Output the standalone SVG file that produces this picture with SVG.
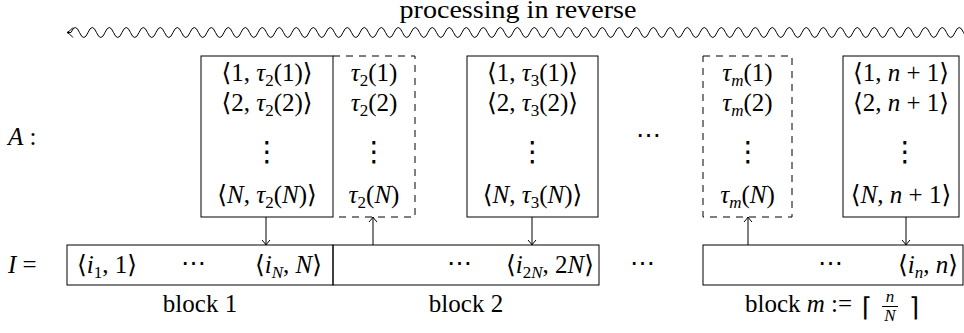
<svg xmlns="http://www.w3.org/2000/svg" width="964" height="333" viewBox="0 0 964 333">
<style>
.t{font-family:'Liberation Serif','Times New Roman','DejaVu Serif',serif;font-size:25px;fill:#000}
.c{text-anchor:middle}
.e{text-anchor:end}
.i{font-style:italic}
.s{font-size:17px}
.vd{font-family:'DejaVu Sans',sans-serif;font-size:28px;text-anchor:middle}
.cl{font-family:'DejaVu Sans',sans-serif;font-size:26px;fill:#000}
.box{fill:none;stroke:#000;stroke-width:1}
.dash{fill:none;stroke:#000;stroke-width:1;stroke-dasharray:7 6}
.ln{fill:none;stroke:#000;stroke-width:1}
</style>
<defs>
<marker id="ah" viewBox="-7 -5 8 10" refX="0" refY="0" markerWidth="8" markerHeight="10" markerUnits="userSpaceOnUse" orient="auto" overflow="visible">
<path d="M-5,-4 Q-1.5,-0.8 0,0 Q-1.5,0.8 -5,4" fill="none" stroke="#000" stroke-width="1"/>
</marker>
</defs>
<rect width="964" height="333" fill="#fff"/>

<g id="reverse-label">
<text x="518" y="18" class="t c" textLength="237" lengthAdjust="spacingAndGlyphs">processing in reverse</text>
<path class="ln" d="M67,32.5 H71 q4.25,-10 8.5,0 t8.5,0 8.5,0 8.5,0 8.5,0 8.5,0 8.5,0 8.5,0 8.5,0 8.5,0 8.5,0 8.5,0 8.5,0 8.5,0 8.5,0 8.5,0 8.5,0 8.5,0 8.5,0 8.5,0 8.5,0 8.5,0 8.5,0 8.5,0 8.5,0 8.5,0 8.5,0 8.5,0 8.5,0 8.5,0 8.5,0 8.5,0 8.5,0 8.5,0 8.5,0 8.5,0 8.5,0 8.5,0 8.5,0 8.5,0 8.5,0 8.5,0 8.5,0 8.5,0 8.5,0 8.5,0 8.5,0 8.5,0 8.5,0 8.5,0 8.5,0 8.5,0 8.5,0 8.5,0 8.5,0 8.5,0 8.5,0 8.5,0 8.5,0 8.5,0 8.5,0 8.5,0 8.5,0 8.5,0 8.5,0 8.5,0 8.5,0 8.5,0 8.5,0 8.5,0 8.5,0 8.5,0 8.5,0 8.5,0 8.5,0 8.5,0 8.5,0 8.5,0 8.5,0 8.5,0 8.5,0 8.5,0 8.5,0 8.5,0 8.5,0 8.5,0 8.5,0 8.5,0 8.5,0 8.5,0 8.5,0 8.5,0 8.5,0 8.5,0 8.5,0 8.5,0 8.5,0 8.5,0 8.5,0 8.5,0 8.5,0 8.5,0 8.5,0 8.5,0 8.5,0 8.5,0 8.5,0 8.5,0"/>
<path class="ln" d="M73,27.5 Q69.5,31.6 67,32.5 Q69.5,33.4 73,37.5"/>
</g>

<g id="label-A"><text x="8" y="145" class="t"><tspan class="i">A</tspan> :</text></g>
<g id="label-I"><text x="8" y="273" class="t"><tspan class="i">I</tspan> =</text></g>

<g id="A-block2">
<rect class="box" x="201" y="56" width="132" height="161"/>
<text x="267" y="81" class="t c">⟨1, <tspan class="i">τ</tspan><tspan class="s" dy="5">2</tspan><tspan dy="-5">(1)⟩</tspan></text>
<text x="267" y="111" class="t c">⟨2, <tspan class="i">τ</tspan><tspan class="s" dy="5">2</tspan><tspan dy="-5">(2)⟩</tspan></text>
<text x="267" y="161" class="vd">⋮</text>
<text x="267" y="203" class="t c">⟨<tspan class="i">N</tspan>, <tspan class="i">τ</tspan><tspan class="s" dy="5">2</tspan><tspan dy="-5">(</tspan><tspan class="i">N</tspan>)⟩</text>
</g>

<g id="tau2">
<path class="dash" d="M333,56 H415 V217 H333"/>
<text x="374" y="81" class="t c"><tspan class="i">τ</tspan><tspan class="s" dy="5">2</tspan><tspan dy="-5">(1)</tspan></text>
<text x="374" y="111" class="t c"><tspan class="i">τ</tspan><tspan class="s" dy="5">2</tspan><tspan dy="-5">(2)</tspan></text>
<text x="374" y="161" class="vd">⋮</text>
<text x="374" y="203" class="t c"><tspan class="i">τ</tspan><tspan class="s" dy="5">2</tspan><tspan dy="-5">(</tspan><tspan class="i">N</tspan>)</text>
</g>

<g id="A-block3">
<rect class="box" x="467" y="56" width="131" height="161"/>
<text x="532.5" y="81" class="t c">⟨1, <tspan class="i">τ</tspan><tspan class="s" dy="5">3</tspan><tspan dy="-5">(1)⟩</tspan></text>
<text x="532.5" y="111" class="t c">⟨2, <tspan class="i">τ</tspan><tspan class="s" dy="5">3</tspan><tspan dy="-5">(2)⟩</tspan></text>
<text x="532.5" y="161" class="vd">⋮</text>
<text x="532.5" y="203" class="t c">⟨<tspan class="i">N</tspan>, <tspan class="i">τ</tspan><tspan class="s" dy="5">3</tspan><tspan dy="-5">(</tspan><tspan class="i">N</tspan>)⟩</text>
</g>

<g id="A-dots"><text x="648" y="143" class="t c">⋯</text></g>

<g id="taum">
<rect class="dash" x="703" y="56" width="89" height="161"/>
<text x="747.5" y="81" class="t c"><tspan class="i">τ</tspan><tspan class="s i" dy="5">m</tspan><tspan dy="-5">(1)</tspan></text>
<text x="747.5" y="111" class="t c"><tspan class="i">τ</tspan><tspan class="s i" dy="5">m</tspan><tspan dy="-5">(2)</tspan></text>
<text x="748" y="161" class="vd">⋮</text>
<text x="747.5" y="203" class="t c"><tspan class="i">τ</tspan><tspan class="s i" dy="5">m</tspan><tspan dy="-5">(</tspan><tspan class="i">N</tspan>)</text>
</g>

<g id="A-last">
<rect class="box" x="843" y="56" width="116" height="161"/>
<text x="901" y="81" class="t c">⟨1, <tspan class="i">n</tspan> + 1⟩</text>
<text x="901" y="111" class="t c">⟨2, <tspan class="i">n</tspan> + 1⟩</text>
<text x="905" y="161" class="vd">⋮</text>
<text x="901" y="203" class="t c">⟨<tspan class="i">N</tspan>, <tspan class="i">n</tspan> + 1⟩</text>
</g>

<g id="I-block1">
<rect class="box" x="67" y="245" width="266" height="40"/>
<text x="77" y="273" class="t">⟨<tspan class="i">i</tspan><tspan class="s" dy="5">1</tspan><tspan dy="-5">, 1⟩</tspan></text>
<text x="193" y="271" class="t c">⋯</text>
<text x="322" y="273" class="t e">⟨<tspan class="i">i</tspan><tspan class="s i" dy="5">N</tspan><tspan dy="-5">, </tspan><tspan class="i">N</tspan>⟩</text>
<text x="200" y="312" class="t c">block 1</text>
</g>

<g id="I-block2">
<rect class="box" x="333" y="245" width="266" height="40"/>
<text x="459" y="271" class="t c">⋯</text>
<text x="594" y="273" class="t e">⟨<tspan class="i">i</tspan><tspan class="s" dy="5">2</tspan><tspan class="s i">N</tspan><tspan dy="-5">, 2</tspan><tspan class="i">N</tspan>⟩</text>
<text x="466" y="312" class="t c">block 2</text>
</g>

<g id="I-dots"><text x="642" y="271" class="t c">⋯</text></g>

<g id="I-blockm">
<rect class="box" x="703" y="245" width="260" height="40"/>
<text x="830" y="271" class="t c">⋯</text>
<text x="958" y="273" class="t e">⟨<tspan class="i">i</tspan><tspan class="s i" dy="5">n</tspan><tspan dy="-5">, </tspan><tspan class="i">n</tspan>⟩</text>
<text x="745" y="312" class="t">block <tspan class="i">m</tspan> :=</text>
<text x="862" y="316" class="cl">⌈</text>
<text x="890" y="302" class="t c i s">n</text>
<line class="ln" x1="882" y1="306.5" x2="898" y2="306.5"/>
<text x="890" y="321" class="t c i s">N</text>
<text x="909" y="316" class="cl">⌉</text>
</g>

<g id="connectors">
<line class="ln" x1="266" y1="217" x2="266" y2="245" marker-end="url(#ah)"/>
<line class="ln" x1="373" y1="245" x2="373" y2="217" marker-end="url(#ah)"/>
<line class="ln" x1="532" y1="217" x2="532" y2="245" marker-end="url(#ah)"/>
<line class="ln" x1="748" y1="245" x2="748" y2="217" marker-end="url(#ah)"/>
<line class="ln" x1="906" y1="217" x2="906" y2="245" marker-end="url(#ah)"/>
</g>
</svg>
